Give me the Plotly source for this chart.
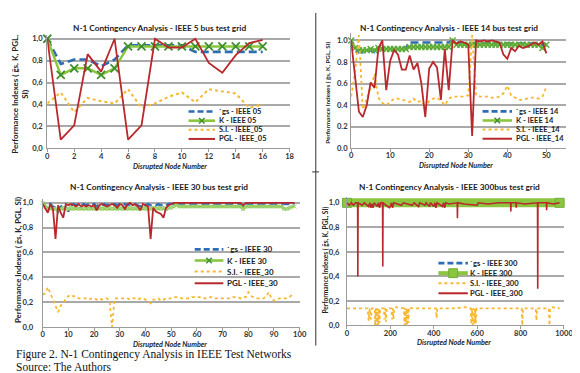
import plotly.graph_objects as go

W, H = 580, 373
FONT = "Lato"

# ---------------- DATA ----------------
names05 = ["`gs - IEEE 05", "K - IEEE 05", "S.I. - IEEE_05", "PGL - IEEE_05"]
names14 = ["`gs - IEEE 14", "K - IEEE 14", "S.I. - IEEE_14", "PGL - IEEE_14"]
names30 = ["`gs - IEEE 30", "K - IEEE 30", "S.I. - IEEE_30", "PGL - IEEE_30"]
names300 = ["`gs - IEEE 300", "K - IEEE 300", "S.I. - IEEE_300", "PGL - IEEE_300"]
titles = ["N-1 Contingency Analysis - IEEE 5 bus test grid",
          "N-1 Contingency Analysis - IEEE 14 bus test grid",
          "N-1 Contingency Analysis - IEEE 30 bus test grid",
          "N-1 Contingency Analysis - IEEE 300bus test grid"]
xtitle = "Disrupted Node Number"
ytitle = "Performance Indexes ( ḡs, K, PGL, SI)"
ytitle_wrapped = "Performance Indexes ( ḡs, K, PGL,<br>SI)"
ytick_vals = [0, 0.2, 0.4, 0.6, 0.8, 1.0]
ytick_comma = ["0,0", "0,2", "0,4", "0,6", "0,8", "1,0"]
ytick_dot = ["0.0", "0.2", "0.4", "0.6", "0.8", "1.0"]
caption = ["Figure 2. N-1 Contingency Analysis in IEEE Test Networks", "Source: The Authors"]

# IEEE 5 bus
x05 = list(range(17))
gs05 = [1.0, 0.77, 0.81, 0.81, 0.75, 0.81, 0.94, 0.94, 0.94, 0.94, 0.94, 0.88, 0.88, 0.88, 0.88, 0.88, 0.88]
k05 = [1.0, 0.67, 0.73, 0.73, 0.67, 0.73, 0.93, 0.93, 0.93, 0.93, 0.93, 0.93, 0.93, 0.93, 0.93, 0.93, 0.93]
si05 = [0.41, 0.51, 0.33, 0.46, 0.43, 0.41, 0.54, 0.37, 0.41, 0.47, 0.51, 0.42, 0.54, 0.52, 0.50, 0.37, 0.40]
pgl05 = [1.0, 0.08, 0.21, 0.86, 0.70, 1.0, 0.08, 0.21, 1.0, 0.92, 0.92, 1.0, 0.78, 0.69, 0.85, 0.96, 0.99]

# IEEE 14 bus
x14 = list(range(51))
gs14 = [1.0, 0.90, 0.89, 0.89, 0.90, 0.91, 0.89, 0.92, 0.92, 0.92,
        0.92, 0.92, 0.92, 0.92, 0.93, 0.98, 0.98, 0.98, 0.98, 0.98,
        0.98, 0.98, 0.98, 0.98, 0.98, 0.98, 1.0, 0.98, 0.98, 0.97,
        0.97, 0.97, 0.97, 0.97, 0.97, 0.97, 0.97, 0.97, 0.97, 0.97,
        0.97, 0.97, 0.97, 0.97, 0.97, 0.97, 0.97, 0.97, 0.97, 0.96, 0.97]
k14 = [1.0, 0.93, 0.91, 0.91, 0.91, 0.92, 0.91, 0.93, 0.92, 0.92,
       0.92, 0.92, 0.92, 0.92, 0.92, 0.94, 0.94, 0.94, 0.94, 0.94,
       0.94, 0.94, 0.94, 0.94, 0.94, 0.94, 1.0, 0.96, 0.96, 0.96,
       0.96, 0.96, 0.96, 0.96, 0.96, 0.96, 0.96, 0.96, 0.96, 0.96,
       0.96, 0.96, 0.96, 0.96, 0.96, 0.96, 0.96, 0.96, 0.96, 0.93, 0.96]
si14 = [0.48, 0.70, 1.05, 0.36, 0.46, 0.56, 0.69, 0.47, 0.42, 0.40,
        0.43, 0.46, 0.46, 0.45, 0.44, 0.43, 0.46, 0.43, 0.44, 0.37,
        0.44, 0.46, 0.47, 0.44, 0.40, 0.46, 0.48, 0.48, 0.48, 0.48,
        0.49, 1.05, 0.49, 0.48, 0.48, 0.48, 0.47, 0.47, 0.48, 0.51,
        0.58, 0.49, 0.47, 0.45, 0.45, 0.46, 0.47, 0.47, 0.46, 0.48, 0.57]
pgl14 = [1.0, 0.65, 0.34, 0.29, 0.40, 0.61, 0.56, 0.93, 1.0, 0.54,
         0.81, 0.91, 0.87, 0.73, 0.73, 0.86, 0.73, 0.79, 0.60, 0.29,
         0.74, 0.80, 0.75, 0.45, 0.92, 0.54, 1.0, 0.97, 0.99, 0.98,
         0.96, 0.115, 1.0, 0.99, 1.0, 0.99, 1.0, 0.99, 0.98, 0.87,
         0.83, 0.93, 0.90, 0.95, 0.93, 0.94, 0.96, 0.98, 0.96, 0.99, 0.88]

# IEEE 30 bus
x30 = list(range(99))
gs30 = [1.00, 0.97, 0.95, 0.99, 0.97, 0.96, 0.93, 0.97, 0.98, 0.97,
        0.93, 0.98, 0.99, 0.98, 0.99, 0.98, 0.99, 0.98, 0.99, 0.98,
        0.99, 0.97, 0.99, 0.98, 0.99, 0.98, 0.99, 0.98, 0.99, 0.98,
        0.99, 0.98, 0.99, 0.98, 0.99, 0.98, 0.99, 0.98, 0.97, 0.99,
        0.98, 0.99, 0.98, 0.99, 0.98, 0.99, 0.98, 0.99, 0.98, 0.99,
        0.99, 0.99, 1.00, 0.99, 0.99, 0.99, 0.99, 0.99, 0.99, 0.99,
        0.99, 0.99, 0.99, 0.99, 0.99, 0.99, 0.99, 0.99, 0.99, 0.99,
        0.99, 0.99, 0.99, 0.99, 0.99, 0.99, 0.99, 0.99, 0.96, 0.99,
        0.99, 0.99, 0.99, 0.99, 0.99, 0.99, 0.99, 0.99, 0.99, 0.99,
        0.99, 0.99, 0.99, 0.99, 0.99, 0.99, 0.99, 0.99, 0.99]
k30 = [1.00, 0.97, 0.95, 0.96, 0.95, 0.95, 0.94, 0.95, 0.96, 0.95,
       0.95, 0.96, 0.95, 0.96, 0.95, 0.96, 0.95, 0.96, 0.95, 0.96,
       0.95, 0.95, 0.96, 0.95, 0.96, 0.95, 0.96, 0.95, 0.96, 0.95,
       0.96, 0.95, 0.96, 0.95, 0.96, 0.95, 0.96, 0.95, 0.95, 0.96,
       0.95, 0.96, 0.95, 0.96, 0.95, 0.96, 0.95, 0.96, 0.95, 0.96,
       0.96, 0.97, 0.99, 0.97, 0.97, 0.97, 0.97, 0.97, 0.97, 0.97,
       0.97, 0.97, 0.97, 0.97, 0.97, 0.97, 0.97, 0.97, 0.97, 0.97,
       0.97, 0.97, 0.97, 0.97, 0.97, 0.97, 0.97, 0.97, 0.95, 0.97,
       0.97, 0.97, 0.97, 0.97, 0.97, 0.97, 0.97, 0.97, 0.97, 0.97,
       0.97, 0.97, 0.97, 0.97, 0.95, 0.95, 0.96, 0.97, 0.97]
si30 = [0.26, 0.27, 0.32, 0.27, 0.22, 0.16, 0.12, 0.17, 0.20, 0.23,
        0.25, 0.24, 0.25, 0.24, 0.23, 0.23, 0.23, 0.23, 0.22, 0.23,
        0.23, 0.22, 0.23, 0.22, 0.23, 0.23, 0.21, 0.00, 0.23, 0.23,
        0.23, 0.23, 0.23, 0.23, 0.22, 0.23, 0.23, 0.22, 0.23, 0.23,
        0.22, 0.21, 0.19, 0.22, 0.22, 0.23, 0.21, 0.22, 0.23, 0.23,
        0.23, 0.24, 0.24, 0.24, 0.23, 0.23, 0.23, 0.23, 0.24, 0.24,
        0.24, 0.24, 0.24, 0.23, 0.23, 0.24, 0.24, 0.23, 0.23, 0.23,
        0.23, 0.23, 0.23, 0.23, 0.24, 0.24, 0.24, 0.23, 0.24, 0.24,
        0.28, 0.25, 0.24, 0.23, 0.23, 0.23, 0.23, 0.25, 0.28, 0.23,
        0.21, 0.22, 0.23, 0.23, 0.23, 0.23, 0.24, 0.26, 0.26]
pgl30 = [0.99, 0.96, 0.92, 0.99, 0.95, 0.71, 0.98, 0.92, 0.88, 0.99,
         0.98, 0.99, 0.98, 0.97, 0.99, 0.97, 0.98, 0.97, 0.98, 0.97,
         0.98, 0.94, 0.98, 0.99, 0.98, 0.97, 0.98, 0.99, 0.98, 0.96,
         0.99, 0.98, 0.95, 0.99, 1.00, 0.98, 0.99, 0.97, 0.94, 0.99,
         0.98, 0.97, 0.71, 0.96, 0.93, 0.92, 0.91, 0.88, 0.96, 0.98,
         0.99, 1.00, 1.00, 1.00, 1.00, 1.00, 1.00, 1.00, 1.00, 1.00,
         1.00, 1.00, 1.00, 1.00, 1.00, 1.00, 1.00, 1.00, 1.00, 1.00,
         1.00, 1.00, 1.00, 1.00, 1.00, 1.00, 1.00, 1.00, 0.98, 1.00,
         1.00, 1.00, 1.00, 1.00, 1.00, 1.00, 1.00, 1.00, 1.00, 1.00,
         1.00, 1.00, 1.00, 1.00, 1.00, 1.00, 1.00, 1.00, 1.00]

# IEEE 300 bus (readings at the visible features)
gs300_x = [0, 100, 150, 300, 500, 700, 980]
gs300 = [1.0, 0.99, 0.99, 1.0, 0.99, 1.0, 1.0]
k300_x = [0, 980]
k300 = [1.0, 1.0]
si300_x = [0, 20, 40, 60, 95, 100, 105, 110, 115, 128, 130, 133, 137, 140, 143, 146, 150, 153,
           170, 173, 176, 180, 183, 205, 208, 211, 214, 217, 225, 262, 265, 268, 271, 274, 277,
           280, 283, 286, 300, 350, 410, 413, 416, 500, 545, 570, 573, 576, 580, 583, 587, 590,
           594, 597, 650, 700, 760, 805, 808, 811, 870, 873, 876, 930, 933, 936, 945, 980]
si300 = [0.14, 0.14, 0.135, 0.14, 0.14, 0.04, 0.14, 0.05, 0.14, 0.14, 0.0, 0.14, 0.0, 0.14, 0.0, 0.14, 0.02, 0.14,
         0.14, 0.05, 0.14, 0.03, 0.14, 0.14, 0.05, 0.14, 0.05, 0.14, 0.15, 0.14, 0.0, 0.14, 0.0, 0.14, 0.0,
         0.14, 0.02, 0.15, 0.14, 0.14, 0.14, 0.06, 0.14, 0.14, 0.15, 0.14, 0.01, 0.14, 0.0, 0.14, 0.01, 0.14,
         0.02, 0.14, 0.14, 0.14, 0.14, 0.14, 0.0, 0.14, 0.14, 0.04, 0.14, 0.14, 0.0, 0.14, 0.15, 0.14]
pgl300_x = [0, 10, 20, 30, 40, 49, 50, 51, 70, 80, 100, 105, 110, 115, 120, 125, 140, 145, 150, 155,
            164, 165, 166, 180, 195, 200, 205, 210, 215, 250, 260, 300, 310, 330, 335, 360, 365, 380,
            385, 400, 405, 410, 415, 440, 445, 450, 455, 470, 508, 509, 510, 540, 600, 605, 650, 700,
            754, 755, 756, 779, 780, 781, 820, 878, 879, 880, 919, 920, 921, 950, 980]
pgl300 = [1.0, 0.98, 1.0, 0.98, 1.0, 1.0, 0.40, 1.0, 0.98, 1.0, 0.97, 1.0, 0.96, 0.99, 0.96, 1.0, 0.97, 1.0, 0.96, 1.0,
          1.0, 0.48, 1.0, 0.98, 0.96, 0.97, 1.0, 0.96, 1.0, 0.98, 1.0, 0.98, 1.0, 0.97, 1.0, 0.98, 1.0, 0.97,
          1.0, 0.97, 1.0, 0.96, 1.0, 0.97, 1.0, 0.96, 1.0, 0.99, 1.0, 0.875, 1.0, 0.99, 0.98, 1.0, 0.99, 1.0,
          1.0, 0.93, 1.0, 1.0, 0.96, 1.0, 0.99, 1.0, 0.30, 1.0, 1.0, 0.94, 1.0, 0.99, 1.0]

# ---------------- STYLE ----------------
BLUE, GREEN, GREEN_D, ORANGE, RED = "#2d6db4", "#8cc63f", "#3f8f2f", "#f7b733", "#b8282c"
AXC, GRIDC = "#9b9b9b", "#a9a9a9"


def X(px):
    return px / W


def Y(py):
    return 1 - py / H


def ydom(p0, p1, rmax):
    top = p0 - (p0 - p1) * rmax
    return [Y(p0), Y(top)]


panels = [
    dict(xd=[38, 285], p0=141, p1=29.3, rmax=1.03, xr=[0, 18], dt=2, tt=ytick_comma, so=2, xso=-2),
    dict(xd=[347.7, 566.6], p0=141, p1=31, rmax=1.07, xr=[0, 55], dt=10, tt=ytick_dot, so=1, xso=-3),
    dict(xd=[33.3, 295.3], p0=323, p1=196.5, rmax=1.03, xr=[0, 100], dt=10, tt=ytick_comma, so=7, xso=-3),
    dict(xd=[343.5, 564.7], p0=321.5, p1=196.5, rmax=1.045, xr=[0, 1000], dt=200, tt=ytick_comma, so=5, xso=-3),
]

fig = go.Figure()

series = [
    (x05, gs05, x05, k05, x05, si05, x05, pgl05, names05),
    (x14, gs14, x14, k14, x14, si14, x14, pgl14, names14),
    (x30, gs30, x30, k30, x30, si30, x30, pgl30, names30),
    (gs300_x, gs300, k300_x, k300, si300_x, si300, pgl300_x, pgl300, names300),
]
kstyles = [
    dict(lw=2.5, mk=dict(symbol="x-thin", size=8, line=dict(width=1.8, color=GREEN_D))),
    dict(lw=3, mk=dict(symbol="x-thin", size=6, line=dict(width=1.4, color="#5aa83a"))),
    dict(lw=3, mk=dict(symbol="x-thin", size=4, line=dict(width=1, color="#a8d98a"))),
    dict(lw=9, mk=dict(symbol="square", size=9, color=GREEN, line=dict(width=1, color="#6fae3a"))),
]
widths = [(2.6, 2.0, 1.8), (2.6, 1.8, 1.8), (2.4, 1.8, 1.8), (2.4, 1.8, 1.6)]

for i, (p, s) in enumerate(zip(panels, series)):
    xa = "x" if i == 0 else f"x{i+1}"
    ya = "y" if i == 0 else f"y{i+1}"
    gx, gy, kx, ky, sx, sy, rx, ry, nm = s
    bw, sw, rw = widths[i]
    fig.add_trace(go.Scatter(x=gx, y=gy, name=nm[0], mode="lines", xaxis=xa, yaxis=ya,
                             line=dict(color=BLUE, width=bw, dash="8px,4px"), showlegend=False))
    ks = kstyles[i]
    fig.add_trace(go.Scatter(x=kx, y=ky, name=nm[1], mode="lines+markers", xaxis=xa, yaxis=ya,
                             line=dict(color=GREEN, width=ks["lw"]), marker=ks["mk"],
                             cliponaxis=False, showlegend=False))
    fig.add_trace(go.Scatter(x=sx, y=sy, name=nm[2], mode="lines", xaxis=xa, yaxis=ya,
                             line=dict(color=ORANGE, width=sw, dash="dot"), showlegend=False))
    fig.add_trace(go.Scatter(x=rx, y=ry, name=nm[3], mode="lines", xaxis=xa, yaxis=ya,
                             line=dict(color=RED, width=rw), showlegend=False))

    tickfont = dict(family=FONT, size=7.6, color="#333333", weight="bold")
    fig.layout[("xaxis" if i == 0 else f"xaxis{i+1}")] = dict(
        domain=[X(p["xd"][0]), X(p["xd"][1])], range=p["xr"], dtick=p["dt"], tick0=0,
        anchor=ya, showline=True, linecolor=AXC, linewidth=1, ticks="outside", ticklen=3,
        tickcolor=AXC, showgrid=False, zeroline=False, tickfont=tickfont, ticklabelstandoff=p["xso"])
    fig.layout[("yaxis" if i == 0 else f"yaxis{i+1}")] = dict(
        domain=ydom(p["p0"], p["p1"], p["rmax"]), range=[0, p["rmax"]],
        tickvals=ytick_vals, ticktext=p["tt"], anchor=xa, showline=True, linecolor=AXC,
        linewidth=1, showgrid=True, gridcolor=GRIDC, gridwidth=1.5, zeroline=False,
        ticks="", ticklabelstandoff=p["so"], tickfont=tickfont)

annotations = []
shapes = []


def ann(text, cx, cy, size, angle=0, family=FONT, color="#222222", xanchor="center", align="center"):
    annotations.append(dict(text=text, x=X(cx), y=Y(cy), xref="paper", yref="paper",
                            showarrow=False, xanchor=xanchor, yanchor="middle", textangle=angle,
                            align=align, borderpad=0, font=dict(family=family, size=size, color=color)))


# chart titles
for t, (cx, cy) in zip(titles, [(152, 18), (447, 18.5), (152, 180), (448, 180)]):
    ann("<b>" + t + "</b>", cx, cy, 8.3)
# x titles
for cx, cy in [(163, 159), (455, 158), (163, 341), (453, 338.5)]:
    ann("<b><i>" + xtitle + "</i></b>", cx, cy, 7.2)
# y titles (rotated)
ann("<b>" + ytitle_wrapped + "</b>", 10.5, 86, 8, angle=-90)
ann("<b>" + ytitle + "</b>", 323.5, 84, 6.3, angle=-90)
ann("<b>" + ytitle + "</b>", 8, 255, 7.8, angle=-90)
ann("<b>" + ytitle + "</b>", 321.5, 255, 6.6, angle=-90)


# custom legends
def legend(names, rows, x0, x1, xt, size, big_k=False, kx=None):
    cols = [BLUE, GREEN, ORANGE, RED]
    dashes = ["6px,3px", "solid", "dot", "solid"]
    lws = [2.6, 2.6, 2, 2]
    if big_k:
        lws[1] = 4
    for j in range(4):
        cy = rows[j]
        shapes.append(dict(type="line", xref="paper", yref="paper", x0=X(x0), x1=X(x1), y0=Y(cy), y1=Y(cy),
                           line=dict(color=cols[j], width=lws[j], dash=dashes[j])))
        ann("<b>" + names[j] + "</b>", xt, cy, size, xanchor="left", align="left")
    mx = kx if kx is not None else (x0 + x1) / 2
    cy = rows[1]
    if big_k:
        shapes.append(dict(type="rect", xref="paper", yref="paper", x0=X(mx - 4.5), x1=X(mx + 4.5),
                           y0=Y(cy + 4.5), y1=Y(cy - 4.5), fillcolor=GREEN, line=dict(color="#6fae3a", width=1)))
    else:
        r = 2.8
        for dy in (-1, 1):
            shapes.append(dict(type="line", xref="paper", yref="paper", x0=X(mx - r), x1=X(mx + r),
                               y0=Y(cy - r * dy), y1=Y(cy + r * dy), line=dict(color=GREEN_D, width=1.5)))


legend(names05, [103.5, 112.8, 122.1, 131.4], 182, 209, 212.5, 7.5)
legend(names14, [103.3, 112.6, 121.9, 131.2], 481.7, 511.7, 514.5, 7.5)
legend(names30, [244, 255.3, 266.6, 278.5], 188.3, 217.5, 220, 8)
legend(names300, [258, 268.2, 278.4, 288.7], 436.7, 466.7, 468.3, 7.6, big_k=True, kx=451.7)

# caption
ann(caption[0], 5, 351.5, 11.5, family="Liberation Serif", color="#111111", xanchor="left", align="left")
ann(caption[1], 5, 364, 11.5, family="Liberation Serif", color="#111111", xanchor="left", align="left")

# page border artefacts
shapes.append(dict(type="line", xref="paper", yref="paper", x0=X(311.7), x1=X(311.7), y0=Y(3), y1=Y(342),
                   line=dict(color="#333333", width=1)))
shapes.append(dict(type="line", xref="paper", yref="paper", x0=X(308), x1=X(315), y0=Y(165), y1=Y(165),
                   line=dict(color="#333333", width=1)))

fig.update_layout(width=W, height=H, margin=dict(l=0, r=0, t=0, b=0),
                  paper_bgcolor="white", plot_bgcolor="rgba(0,0,0,0)",
                  font=dict(family=FONT, size=8, color="#333333"),
                  showlegend=False, annotations=annotations, shapes=shapes)

fig.write_html("out.html")
